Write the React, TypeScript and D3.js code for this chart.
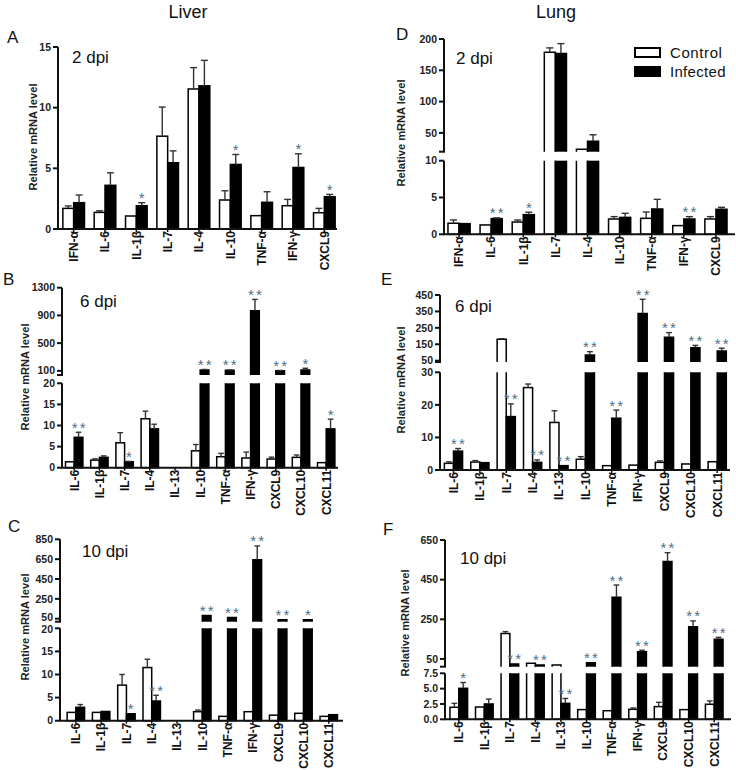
import React from "react";
import * as d3 from "d3";

// ---------- Data ----------
const catsShort = ["IFN-α", "IL-6", "IL-1β", "IL-7", "IL-4", "IL-10", "TNF-α", "IFN-γ", "CXCL9"];
const catsLong = ["IL-6", "IL-1β", "IL-7", "IL-4", "IL-13", "IL-10", "TNF-α", "IFN-γ", "CXCL9", "CXCL10", "CXCL11"];

// Liver 2 dpi (A)
const ctrlA = [1.7, 1.37, 1.07, 7.65, 11.54, 2.39, 1.1, 1.92, 1.34];
const ctrlSemA = [0.2, 0.13, 0, 2.4, 1.76, 0.76, 0, 0.52, 0.36];
const infA = [2.17, 3.6, 1.92, 5.46, 11.8, 5.32, 2.2, 5.07, 2.66];
const infSemA = [0.63, 1.03, 0.25, 0.98, 2.1, 0.82, 0.87, 1.13, 0.19];
const sigA = ["", "", "*", "", "", "*", "", "*", "*"];

// Lung 2 dpi (D)
const ctrlD = [1.5, 1.27, 1.67, 178.8, 24, 2.08, 2.17, 1.18, 2.08];
const ctrlSemD = [0.45, 0, 0.28, 7, 0, 0.32, 0.86, 0, 0.32];
const infD = [1.45, 2.13, 2.67, 177, 36.7, 2.3, 3.44, 2.08, 3.4];
const infSemD = [0, 0.1, 0.33, 15.6, 10.3, 0.55, 1.31, 0.32, 0.27];
const sigD = ["", "**", "*", "", "", "", "", "**", ""];

// Liver 6 dpi (B)
const ctrlB = [1.4, 1.8, 5.9, 11.6, null, 4.0, 2.6, 2.3, 2.05, 2.45, 1.2];
const ctrlSemB = [0, 0.3, 2.4, 1.8, null, 1.5, 0.8, 1.4, 0.45, 0.55, 0];
const infB = [7.2, 2.45, 1.4, 9.2, null, 112, 108, 968, 100, 112, 9.2];
const infSemB = [1.2, 0.35, 0.1, 1.1, null, 8, 6, 163, 6, 25, 2.3];
const sigB = ["**", "", "*", "", "", "**", "**", "**", "**", "*", "*"];

// Lung 6 dpi (E)
const ctrlE = [2.05, 2.45, 180, 25.3, 14.6, 3.3, 1.33, 1.5, 2.35, 1.85, 2.55];
const ctrlSemE = [0.45, 0.45, 4, 1.1, 3.6, 0.8, 0, 0, 0.45, 0, 0];
const infE = [5.8, 2.25, 16.4, 2.35, 1.33, 85, 15.9, 338, 192, 129, 109];
const infSemE = [0.8, 0, 3.9, 0.75, 0, 20, 2.5, 86, 29, 14, 17];
const sigE = ["**", "", "**", "**", "**", "**", "**", "**", "**", "**", "**"];

// Liver 10 dpi (C)
const ctrlC = [1.8, 1.8, 7.7, 11.5, null, 1.95, 0.94, 1.95, 1.2, 1.6, 0.94];
const ctrlSemC = [0, 0, 2.3, 1.8, null, 0.35, 0, 0, 0, 0, 0];
const infC = [2.9, 2.0, 1.5, 4.26, null, 83, 63, 643, 40, 40, 1.3];
const infSemC = [0.6, 0, 0, 1.24, null, 0, 0, 140, 0, 0, 0];
const sigC = ["", "", "*", "**", "", "**", "**", "**", "**", "*", ""];

// Lung 10 dpi (F)
const ctrlF = [1.96, 2.0, 179, 28, 20, 1.58, 1.4, 1.63, 2.07, 1.58, 2.45];
const ctrlSemF = [0.64, 0, 9, 0, 0, 0, 0, 0.22, 0.7, 0, 0.55];
const infF = [5.05, 2.5, 25, 20, 2.6, 31, 361, 87, 541, 213, 149];
const infSemF = [0.95, 0.8, 0, 0, 0.8, 0, 62, 7, 45, 29, 10];
const sigF = ["*", "", "**", "**", "**", "**", "**", "**", "**", "**", "**"];

// Tick values
const ticksA = [0, 5, 10, 15];
const ticksDLow = [0, 5, 10];
const ticksDUp = [50, 100, 150, 200];
const ticksBLow = [0, 5, 10, 15, 20];
const ticksBUp = [100, 500, 900, 1300];
const ticksELow = [0, 10, 20, 30];
const ticksEUp = [50, 150, 250, 350, 450];
const ticksCLow = [0, 5, 10, 15, 20];
const ticksCUp = [50, 250, 450, 650, 850];
const ticksFLow = [0, 2.5, 5, 7.5];
const ticksFUp = [50, 250, 450, 650];

// ---------- Layout ----------
type Seg = { domain: [number, number]; range: [number, number]; ticks: number[]; fmt?: string };
type Cfg = {
  letter: string; letterX: number; letterY: number;
  dpi: string; dpiX: number; dpiY: number;
  titleX: number; titleY: number;
  axisX: number; band: [number, number]; xEnd: number;
  lower: Seg; upper?: Seg;
  cats: string[];
  ctrl: (number | null)[]; ctrlSem: (number | null)[];
  inf: (number | null)[]; infSem: (number | null)[];
  sig: string[];
};

const panels: Cfg[] = [
  {
    letter: "A", letterX: 7, letterY: 43, dpi: "2 dpi", dpiX: 72, dpiY: 63, titleX: 33, titleY: 137,
    axisX: 58, band: [58, 340], xEnd: 337,
    lower: { domain: [0, 15], range: [229, 47], ticks: ticksA },
    cats: catsShort, ctrl: ctrlA, ctrlSem: ctrlSemA, inf: infA, infSem: infSemA, sig: sigA,
  },
  {
    letter: "D", letterX: 396, letterY: 40, dpi: "2 dpi", dpiX: 456, dpiY: 64, titleX: 401, titleY: 133,
    axisX: 444, band: [443, 732], xEnd: 735,
    lower: { domain: [0, 10], range: [234.3, 160.7], ticks: ticksDLow },
    upper: { domain: [20, 200], range: [151.7, 39], ticks: ticksDUp },
    cats: catsShort, ctrl: ctrlD, ctrlSem: ctrlSemD, inf: infD, infSem: infSemD, sig: sigD,
  },
  {
    letter: "B", letterX: 3, letterY: 285, dpi: "6 dpi", dpiX: 80, dpiY: 306.7, titleX: 25, titleY: 377,
    axisX: 62, band: [61.6, 338.8], xEnd: 338,
    lower: { domain: [0, 20], range: [467.7, 383.3], ticks: ticksBLow },
    upper: { domain: [40, 1300], range: [375, 287.7], ticks: ticksBUp },
    cats: catsLong, ctrl: ctrlB, ctrlSem: ctrlSemB, inf: infB, infSem: infSemB, sig: sigB,
  },
  {
    letter: "E", letterX: 381, letterY: 285, dpi: "6 dpi", dpiX: 455, dpiY: 311.7, titleX: 401, titleY: 380,
    axisX: 440, band: [440.3, 730.4], xEnd: 730,
    lower: { domain: [0, 30], range: [470, 372.3], ticks: ticksELow },
    upper: { domain: [42, 450], range: [362, 295], ticks: ticksEUp },
    cats: catsLong, ctrl: ctrlE, ctrlSem: ctrlSemE, inf: infE, infSem: infSemE, sig: sigE,
  },
  {
    letter: "C", letterX: 8, letterY: 532, dpi: "10 dpi", dpiX: 82, dpiY: 556.7, titleX: 25, titleY: 627,
    axisX: 60, band: [63.2, 341.4], xEnd: 343,
    lower: { domain: [0, 20], range: [720.7, 628.3], ticks: ticksCLow },
    upper: { domain: [20, 850], range: [621.7, 539.3], ticks: ticksCUp },
    cats: catsLong, ctrl: ctrlC, ctrlSem: ctrlSemC, inf: infC, infSem: infSemC, sig: sigC,
  },
  {
    letter: "F", letterX: 383, letterY: 535, dpi: "10 dpi", dpiX: 460, dpiY: 564, titleX: 405, titleY: 623,
    axisX: 445, band: [446, 727], xEnd: 731,
    lower: { domain: [0, 7.5], range: [719.3, 673.3], ticks: ticksFLow, fmt: ".1f" },
    upper: { domain: [11, 650], range: [666.7, 540], ticks: ticksFUp },
    cats: catsLong, ctrl: ctrlF, ctrlSem: ctrlSemF, inf: infF, infSem: infSemF, sig: sigF,
  },
];

const FONT = "'Liberation Sans', Arial, sans-serif";
const STAR = "#4f6e88";
const INK = "#111";
const TICK_FS = 10.5;

function Panel({ c }: { c: Cfg }) {
  const x = d3.scaleBand<string>().domain(c.cats).range(c.band).padding(0);
  const step = x.step();
  const bw = step * 0.345;
  const yL = d3.scaleLinear().domain(c.lower.domain).range(c.lower.range);
  const yU = c.upper ? d3.scaleLinear().domain(c.upper.domain).range(c.upper.range) : null;
  const y0 = yL(0);
  const lowMax = c.lower.domain[1];
  const yv = (v: number) => (yU && v > lowMax ? yU(v) : yL(v));

  // label nudge so the two tick labels on either side of the axis break don't collide
  let nudge = 0;
  if (c.upper && yU) {
    const gap = yL(d3.max(c.lower.ticks) as number) - yU(d3.min(c.upper.ticks) as number);
    const need = TICK_FS * 1.2;
    if (gap < need) nudge = (need - gap) / 2;
  }

  const bars: React.ReactNode[] = [];
  c.cats.forEach((cat, i) => {
    const cx = (x(cat) as number) + step / 2;
    const series = [
      { v: c.ctrl[i], s: c.ctrlSem[i], fill: "#fff", left: cx - bw, sig: "" },
      { v: c.inf[i], s: c.infSem[i], fill: "#000", left: cx, sig: c.sig[i] },
    ];
    series.forEach((b, j) => {
      if (b.v == null) return;
      const v = b.v;
      const l = b.left, r = b.left + bw;
      const key = `${i}-${j}`;
      if (yU && v > lowMax) {
        const lt = yL(lowMax);
        const ub = yU(c.upper!.domain[0]);
        const ut = yU(v);
        bars.push(
          <g key={key}>
            <rect x={l} y={lt} width={bw} height={y0 - lt} fill={b.fill} />
            <path d={`M${l},${lt}V${y0}H${r}V${lt}`} fill="none" stroke="#000" strokeWidth={1.5} />
            <rect x={l} y={ut} width={bw} height={Math.max(0, ub - ut)} fill={b.fill} />
            <path d={`M${l},${ub}V${ut}H${r}V${ub}`} fill="none" stroke="#000" strokeWidth={1.5} />
          </g>
        );
      } else {
        const t = yL(v);
        bars.push(
          <rect key={key} x={l} y={t} width={bw} height={y0 - t} fill={b.fill} stroke="#000" strokeWidth={1.5} />
        );
      }
      const s = b.s || 0;
      const top = yv(v + s);
      const bc = l + bw / 2;
      if (s > 0) {
        bars.push(
          <g key={key + "e"} stroke="#333" strokeWidth={1.4}>
            <line x1={bc} x2={bc} y1={yv(v)} y2={top} />
            <line x1={bc - bw * 0.32} x2={bc + bw * 0.32} y1={top} y2={top} />
          </g>
        );
      }
      if (b.sig) {
        const n = b.sig.length;
        for (let k = 0; k < n; k++) {
          const off = n === 1 ? 0 : (k - (n - 1) / 2) * 8;
          bars.push(
            <text key={key + "s" + k} x={bc + off} y={top + 0.5} textAnchor="middle" fontSize={15}
              fontFamily={FONT} fill={STAR}>*</text>
          );
        }
      }
    });
  });

  const segs: { seg: Seg; sc: d3.ScaleLinear<number, number>; hook: boolean; isUpper: boolean }[] = [
    { seg: c.lower, sc: yL, hook: false, isUpper: false },
  ];
  if (c.upper && yU) segs.push({ seg: c.upper, sc: yU, hook: true, isUpper: true });

  return (
    <g>
      <text x={c.letterX} y={c.letterY} fontSize={17} fontFamily={FONT} fill={INK}>{c.letter}</text>
      <text x={c.dpiX} y={c.dpiY} fontSize={17} fontFamily={FONT} fill={INK}>{c.dpi}</text>
      <text transform={`translate(${c.titleX},${c.titleY}) rotate(-90)`} textAnchor="middle" dy="0.35em"
        fontSize={11} fontWeight="bold" fontFamily={FONT} fill="#222" textLength={107} lengthAdjust="spacingAndGlyphs">
        Relative mRNA level
      </text>
      {bars}
      {/* y axis */}
      {segs.map(({ seg, sc, hook, isUpper }, si) => {
        const edgeTick = isUpper ? d3.min(seg.ticks) : d3.max(seg.ticks);
        return (
          <g key={si}>
            <line x1={c.axisX} x2={c.axisX} y1={seg.range[0]} y2={seg.range[1]} stroke={INK} strokeWidth={2} />
            {hook && (
              <line x1={c.axisX - 5} x2={c.axisX + 1} y1={seg.range[0]} y2={seg.range[0]} stroke={INK} strokeWidth={2} />
            )}
            {seg.ticks.map((t) => {
              const shift = t === edgeTick && nudge > 0 ? (isUpper ? -nudge : nudge) : 0;
              return (
                <g key={t}>
                  <line x1={c.axisX - 5} x2={c.axisX} y1={sc(t)} y2={sc(t)} stroke={INK} strokeWidth={2} />
                  <text x={c.axisX - 7} y={sc(t) + shift} dy="0.35em" textAnchor="end" fontSize={TICK_FS}
                    fontWeight="bold" fontFamily={FONT} fill="#222">
                    {seg.fmt ? d3.format(seg.fmt)(t) : String(t)}
                  </text>
                </g>
              );
            })}
          </g>
        );
      })}
      {/* x axis */}
      <line x1={c.axisX - 1} x2={c.xEnd} y1={y0} y2={y0} stroke={INK} strokeWidth={2} />
      {c.cats.map((cat) => {
        const cx = (x(cat) as number) + step / 2;
        return (
          <g key={cat}>
            <line x1={cx} x2={cx} y1={y0} y2={y0 + 3} stroke={INK} strokeWidth={1.5} />
            <text transform={`translate(${cx},${y0 + 2}) rotate(-90)`} textAnchor="end" dy="0.36em"
              fontSize={12} fontWeight="bold" fontFamily={FONT} fill="#111">{cat}</text>
          </g>
        );
      })}
    </g>
  );
}

export default function App() {
  return (
    <>
      <style>{`body{margin:0;background:#fff}`}</style>
      <svg width={736} height={770} style={{ display: "block" }} xmlns="http://www.w3.org/2000/svg">
        <rect width={736} height={770} fill="#fff" />
        <text x={188} y={18} textAnchor="middle" fontSize={18} fontFamily={FONT} fill={INK}>Liver</text>
        <text x={556} y={18} textAnchor="middle" fontSize={18} fontFamily={FONT} fill={INK}>Lung</text>
        {panels.map((p) => <Panel key={p.letter} c={p} />)}
        {/* legend */}
        <rect x={635} y={48} width={25} height={9} fill="#fff" stroke="#000" strokeWidth={2} />
        <rect x={635} y={67} width={25} height={9} fill="#000" stroke="#000" strokeWidth={2} />
        <text x={670} y={57.5} fontSize={15} fontFamily={FONT} fill={INK} letterSpacing={0.6}>Control</text>
        <text x={670} y={76.5} fontSize={15} fontFamily={FONT} fill={INK} letterSpacing={0.3}>Infected</text>
      </svg>
    </>
  );
}
